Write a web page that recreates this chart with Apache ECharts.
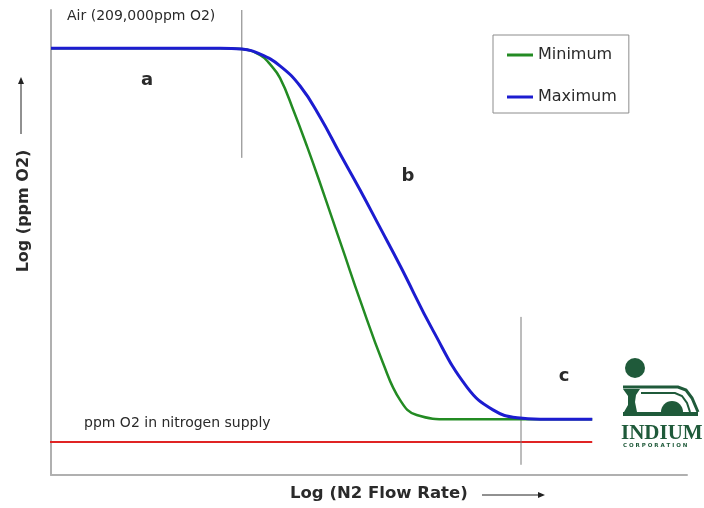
<!DOCTYPE html>
<html>
<head>
<meta charset="utf-8">
<script src="https://cdn.jsdelivr.net/npm/echarts@6/dist/echarts.min.js"></script>
<style>
html,body{margin:0;padding:0;background:#fff;}
#chart{width:704px;height:508px;}
</style>
</head>
<body>
<div id="chart"></div>
<script>
// ---- data (arbitrary log units: x = log N2 flow rate, y = log ppm O2) ----
const seriesNames = ['Minimum', 'Maximum'];
const minX = [0, 26.6, 30.0, 32.9, 34.4, 36.0, 38.1, 40.3, 42.3, 44.3, 45.9, 48.6, 52.2, 54.9, 57.5, 62.7, 73.9, 85.1];
const minY = [91.8, 91.8, 91.6, 90.3, 88.4, 85.4, 78.5, 70.5, 62.8, 54.8, 48.4, 37.6, 24.1, 16.1, 12.9, 12.0, 12.0, 12.0];
const maxX = [0, 26.6, 30.0, 32.9, 36.0, 39.2, 42.3, 45.4, 48.6, 51.7, 54.9, 60.1, 65.4, 69.5, 73.3, 76.9, 85.1];
const maxY = [91.8, 91.8, 91.6, 90.5, 88.0, 83.6, 77.0, 69.2, 61.3, 53.3, 45.0, 31.0, 18.9, 14.0, 12.3, 12.0, 12.0];
const supplyX = [-3.1, 85.1];
const supplyLevel = 7.1;
const markerAX = [30.0, 30.0];
const markerAY = [100, 68.2];
const markerCX = [73.9, 73.9];
const markerCY = [34.0, 2.2];
const xRange = [0, 100];
const yRange = [0, 100];

const pairs = (xs, ys) => xs.map((x, i) => [x, ys[i]]);

const chart = echarts.init(document.getElementById('chart'), null, {renderer: 'canvas'});
const GREEN = '#238b23';
const BLUE = '#1c1cd0';
const LOGO = '#1f5a3a';
const TXT = '#2a2a2a';
const F = 'DejaVu Sans';

const option = {
  animation: false,
  backgroundColor: '#ffffff',
  grid: {left: 51, right: 17, top: 10, bottom: 33},
  xAxis: {
    type: 'value', min: xRange[0], max: xRange[1],
    axisLine: {show: true, onZero: false, lineStyle: {color: '#b0b0b0', width: 2}},
    axisTick: {show: false}, axisLabel: {show: false}, splitLine: {show: false}
  },
  yAxis: {
    type: 'value', min: yRange[0], max: yRange[1],
    axisLine: {show: true, onZero: false, lineStyle: {color: '#b0b0b0', width: 2}},
    axisTick: {show: false}, axisLabel: {show: false}, splitLine: {show: false}
  },
  legend: {
    data: seriesNames,
    orient: 'vertical', left: 493, top: 35,
    padding: [12, 12, 8, 14], itemGap: 26,
    itemWidth: 26, itemHeight: 3, icon: 'rect',
    borderColor: '#8c8c8c', borderWidth: 1,
    textStyle: {fontFamily: F, fontSize: 16, color: TXT}
  },
  series: [
    {
      type: 'line', name: 'supply', data: pairs(supplyX, [supplyLevel, supplyLevel]),
      showSymbol: false, clip: false, silent: true,
      lineStyle: {color: '#e02424', width: 2}
    },
    {
      type: 'line', name: 'markerA', data: pairs(markerAX, markerAY),
      showSymbol: false, silent: true, lineStyle: {color: '#7a7a7a', width: 1}
    },
    {
      type: 'line', name: 'markerC', data: pairs(markerCX, markerCY),
      showSymbol: false, silent: true, lineStyle: {color: '#7a7a7a', width: 1}
    },
    {
      type: 'line', name: seriesNames[0], data: pairs(minX, minY),
      showSymbol: false, smooth: 0.45, silent: true,
      color: GREEN, lineStyle: {color: GREEN, width: 2.5}
    },
    {
      type: 'line', name: seriesNames[1], data: pairs(maxX, maxY),
      showSymbol: false, smooth: 0.45, silent: true,
      color: BLUE, lineStyle: {color: BLUE, width: 3}
    }
  ],
  graphic: [
    {type: 'text', x: 67, y: 16, style: {text: 'Air (209,000ppm O2)', fontFamily: F, fontSize: 14, fill: TXT, verticalAlign: 'middle'}},
    {type: 'text', x: 147, y: 80, style: {text: 'a', fontFamily: F, fontWeight: 'bold', fontSize: 18, fill: TXT, align: 'center', verticalAlign: 'middle'}},
    {type: 'text', x: 408, y: 176, style: {text: 'b', fontFamily: F, fontWeight: 'bold', fontSize: 18, fill: TXT, align: 'center', verticalAlign: 'middle'}},
    {type: 'text', x: 564, y: 376, style: {text: 'c', fontFamily: F, fontWeight: 'bold', fontSize: 18, fill: TXT, align: 'center', verticalAlign: 'middle'}},
    {type: 'text', x: 84, y: 423, style: {text: 'ppm O2 in nitrogen supply', fontFamily: F, fontSize: 14, fill: TXT, verticalAlign: 'middle'}},
    // axis titles
    {type: 'text', x: 290, y: 494, style: {text: 'Log (N2 Flow Rate)', fontFamily: F, fontWeight: 'bold', fontSize: 16.5, fill: TXT, verticalAlign: 'middle'}},
    {type: 'line', shape: {x1: 482, y1: 495, x2: 540, y2: 495}, style: {stroke: '#222', lineWidth: 1}},
    {type: 'polygon', shape: {points: [[545, 495], [538, 492], [538, 498]]}, style: {fill: '#222'}},
    {type: 'text', x: 24, y: 211, rotation: Math.PI / 2, style: {text: 'Log (ppm O2)', fontFamily: F, fontWeight: 'bold', fontSize: 16, fill: TXT, align: 'center', verticalAlign: 'middle'}},
    {type: 'line', shape: {x1: 21, y1: 134, x2: 21, y2: 82}, style: {stroke: '#222', lineWidth: 1}},
    {type: 'polygon', shape: {points: [[21, 77], [18, 84], [24, 84]]}, style: {fill: '#222'}},
    // logo
    {type: 'circle', shape: {cx: 635, cy: 368, r: 10}, style: {fill: LOGO}},
    {type: 'polyline', shape: {points: [[623, 387], [678, 387], [686, 390], [692, 398], [698, 412]]}, style: {stroke: LOGO, lineWidth: 3, fill: null}},
    {type: 'polyline', shape: {points: [[641, 393], [675, 393], [682, 396], [687, 403], [690, 412]]}, style: {stroke: LOGO, lineWidth: 2, fill: null}},
    {type: 'polygon', shape: {points: [[623, 389], [640, 389], [636, 395], [635, 402], [637, 412], [624, 412], [628, 405], [628, 396]]}, style: {fill: LOGO}},
    {type: 'sector', shape: {cx: 672, cy: 412, r0: 0, r: 11, startAngle: Math.PI, endAngle: Math.PI * 2, clockwise: true}, style: {fill: LOGO}},
    {type: 'rect', shape: {x: 623, y: 412, width: 75, height: 4}, style: {fill: LOGO}},
    {type: 'text', x: 621, y: 434, style: {text: 'INDIUM', fontFamily: 'Liberation Serif', fontWeight: 'bold', fontSize: 21, fill: LOGO, verticalAlign: 'middle'}},
    {type: 'text', x: 623, y: 446, style: {text: 'C O R P O R A T I O N', fontFamily: F, fontWeight: 'bold', fontSize: 5.5, fill: LOGO, verticalAlign: 'middle'}}
  ]
};
chart.setOption(option);
</script>
</body>
</html>
